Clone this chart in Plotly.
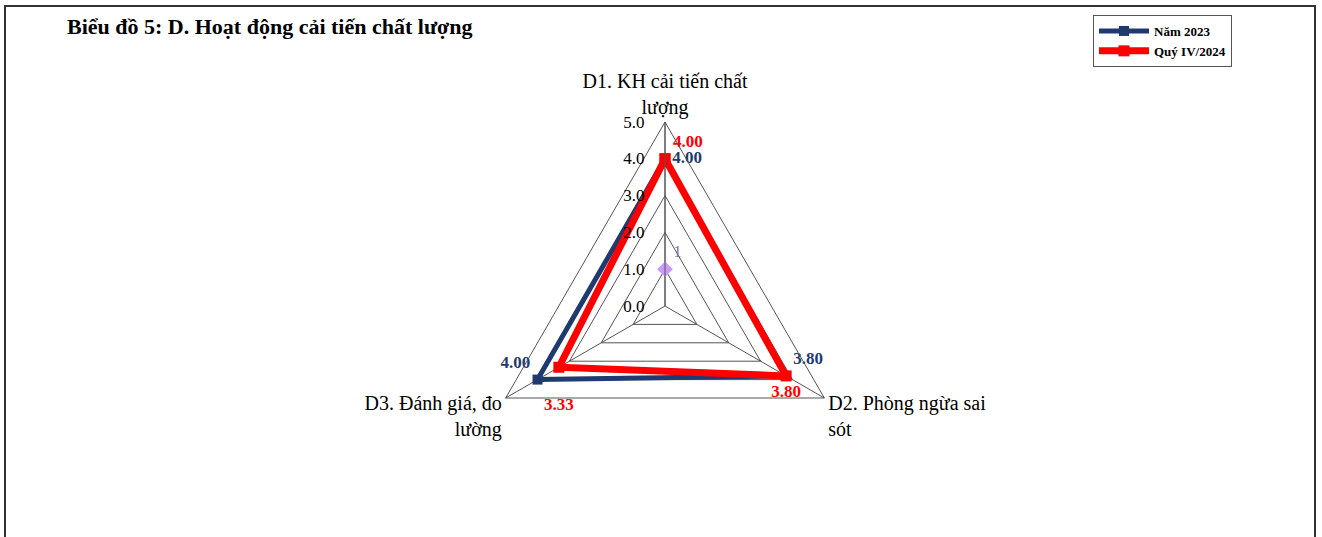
import plotly.graph_objects as go

# categories and values
categories = ["D1. KH cải tiến chất<br>lượng", "D2. Phòng ngừa sai<br>sót", "D3. Đánh giá, đo<br>lường"]
nam_2023 = [4.00, 3.80, 4.00]
quy_iv_2024 = [4.00, 3.80, 3.33]
stray_value = [1]
radial_ticks = [0, 1, 2, 3, 4, 5]

navy = "#1f3a6e"
red = "#ff0000"
serif = "Liberation Serif, Times New Roman, serif"

W, H = 1322, 537
cx, cy, R = 665, 306, 184   # polar centre and radius in pixels


def closed(vals):
    return vals + vals[:1]


fig = go.Figure()

fig.add_trace(go.Scatterpolar(
    r=closed(nam_2023), theta=closed(categories),
    name="Năm 2023", mode="lines+markers+text",
    line=dict(color=navy, width=5),
    marker=dict(symbol="square", size=10, color=navy),
    text=[f"{v:.2f}" for v in nam_2023] + [""],
    textposition=["middle right", "top right", "top left", "middle right"],
    textfont=dict(family=serif, size=17, color=navy, weight="bold"),
))
red_text = [f"{v:.2f}" for v in quy_iv_2024] + [""]
red_text[2] = "<br>" + red_text[2]   # push the D3 label below the navy line
fig.add_trace(go.Scatterpolar(
    r=closed(quy_iv_2024), theta=closed(categories),
    name="Quý IV/2024", mode="lines+markers+text",
    line=dict(color=red, width=7),
    marker=dict(symbol="square", size=11, color=red),
    text=red_text,
    textposition=["top right", "bottom center", "bottom center", "middle right"],
    textfont=dict(family=serif, size=17, color=red, weight="bold"),
))
# stray point left in the original sheet
fig.add_trace(go.Scatterpolar(
    r=stray_value, theta=categories[:1],
    mode="markers+text", showlegend=False,
    marker=dict(symbol="diamond", size=12, color="#cc99ff"),
    text=["1"], textposition="top right",
    textfont=dict(family=serif, size=16, color="#7a6fb0"),
))

fig.update_layout(
    width=W, height=H,
    margin=dict(l=0, r=0, t=0, b=0),
    paper_bgcolor="white",
    title=dict(text="<b>Biểu đồ 5: D. Hoạt động cải tiến chất lượng</b>",
               x=67 / W, xanchor="left", y=1 - 26 / H, yanchor="middle",
               font=dict(family=serif, size=22, color="black")),
    polar=dict(
        domain=dict(x=[(cx - R) / W, (cx + R) / W],
                    y=[(H - cy - R) / H, (H - cy + R) / H]),
        gridshape="linear",
        bgcolor="white",
        angularaxis=dict(rotation=90, direction="clockwise",
                         showline=True, linecolor="#555555", linewidth=1,
                         gridcolor="#555555", gridwidth=1, ticks="",
                         tickfont=dict(family=serif, size=20, color="black")),
        radialaxis=dict(range=[0, 5], tickvals=radial_ticks, tickformat=".1f",
                        angle=90, tickangle=90, side="counterclockwise",
                        showline=True, linecolor="#555555", linewidth=1,
                        gridcolor="#555555", gridwidth=1,
                        ticks="outside", ticklen=14, tickcolor="rgba(0,0,0,0)",
                        tickfont=dict(family=serif, size=17, color="black")),
    ),
    legend=dict(x=1093 / W, y=1 - 15 / H, xanchor="left", yanchor="top",
                bgcolor="white", bordercolor="#555555", borderwidth=1,
                font=dict(family=serif, size=13, color="black", weight="bold"),
                itemwidth=50, tracegroupgap=8),
    shapes=[dict(type="rect", xref="paper", yref="paper",
                 x0=5 / W, x1=1315 / W, y0=-0.1, y1=1 - 6 / H,
                 line=dict(color="#333333", width=2))],
)

fig.write_html("out.html", config={"displayModeBar": False},
               post_script="document.body.style.margin = '0';")
